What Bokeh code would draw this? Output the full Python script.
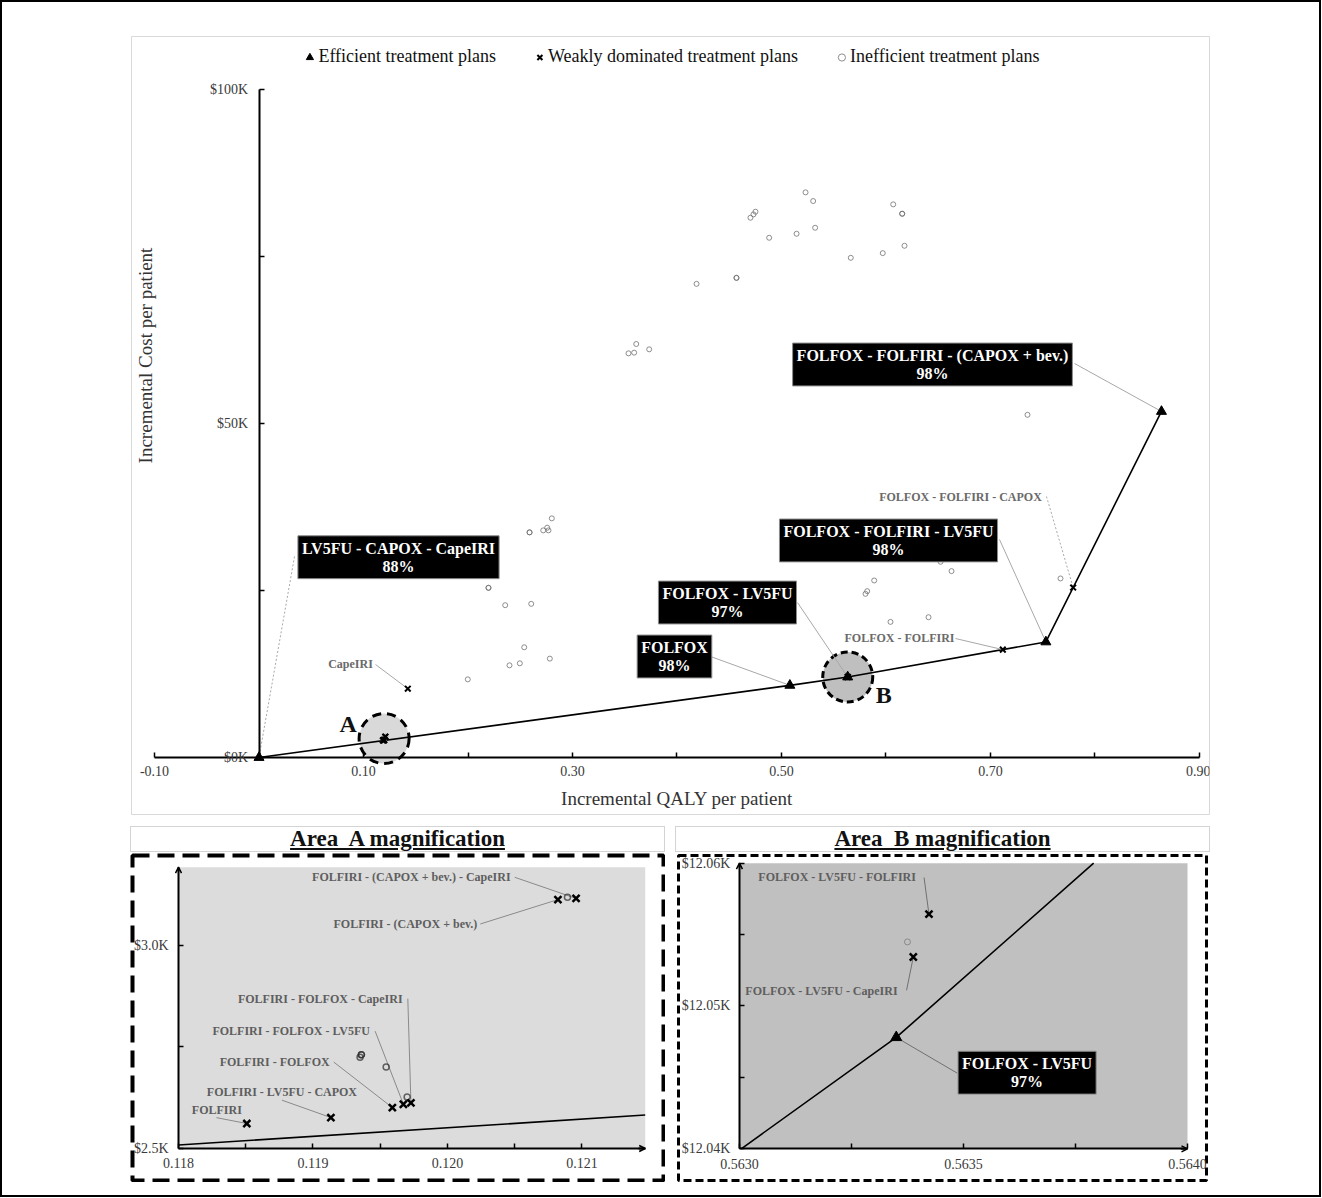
import numpy as np
from bokeh.plotting import figure
from bokeh.models import (Range1d, LinearAxis, FixedTicker, PrintfTickFormatter, Label,
                          Legend, LegendItem, BoxAnnotation, Div, ColumnDataSource,
                          Arrow, OpenHead)
from bokeh.layouts import column, row
from bokeh.embed import file_html
from bokeh.resources import INLINE

SERIF = "Liberation Serif"

# ---------------- data: incremental QALY and incremental cost ($K) per patient ----------------
efficient_plans = ["LV5FU - CAPOX - CapeIRI", "FOLFOX", "FOLFOX - LV5FU",
                   "FOLFOX - FOLFIRI - LV5FU", "FOLFOX - FOLFIRI - (CAPOX + bev.)"]
efficient_qaly = [0.0, 0.508, 0.56335, 0.753, 0.8636]
efficient_cost = [0.0, 10.80, 12.0478, 17.30, 51.80]
efficient_prob = ["88%", "98%", "97%", "98%", "98%"]

weak_plans = ["CapeIRI", "FOLFIRI", "FOLFIRI - LV5FU - CAPOX", "FOLFIRI - FOLFOX",
              "FOLFIRI - FOLFOX - LV5FU", "FOLFIRI - FOLFOX - CapeIRI",
              "FOLFIRI - (CAPOX + bev.)", "FOLFIRI - (CAPOX + bev.) - CapeIRI",
              "FOLFOX - LV5FU - CapeIRI", "FOLFOX - LV5FU - FOLFIRI",
              "FOLFOX - FOLFIRI", "FOLFOX - FOLFIRI - CAPOX"]
weak_qaly = [0.1424, 0.118508, 0.119133, 0.119590, 0.119672, 0.119728,
             0.120821, 0.120956, 0.563388, 0.563423, 0.7118, 0.7791]
weak_cost = [10.30, 2.5615, 2.5762, 2.6008, 2.6090, 2.6123,
             3.1130, 3.1160, 12.05343, 12.05643, 16.15, 25.44]

inefficient_qaly = [0.5230, 0.5303, 0.6069, 0.6155, 0.6155, 0.4732, 0.4703, 0.4751,
                    0.4882, 0.5144, 0.5322, 0.6177, 0.5663, 0.5969, 0.4569, 0.4569,
                    0.4187, 0.3536, 0.3590, 0.3610, 0.3734, 0.7354, 0.2802, 0.2758,
                    0.2770, 0.2720, 0.2589, 0.2589, 0.2196, 0.2196, 0.2356, 0.2605,
                    0.2538, 0.2397, 0.2496, 0.2783, 0.1998, 0.5887, 0.5804, 0.5820,
                    0.6043, 0.6407, 0.6522, 0.6627, 0.7670,
                    0.11970, 0.11936, 0.11935, 0.11936, 0.119544, 0.120892,
                    0.563375]
inefficient_cost = [84.6, 83.3, 82.8, 81.4, 81.4, 81.3, 80.8, 81.7,
                    77.8, 78.4, 79.3, 76.6, 74.8, 75.5, 71.8, 71.8,
                    70.9, 60.5, 60.6, 61.9, 61.1, 51.3, 35.8, 34.4,
                    34.0, 34.0, 33.7, 33.7, 25.4, 25.4, 22.8, 23.0,
                    16.5, 13.8, 14.1, 14.8, 11.7, 26.5, 24.5, 24.9,
                    20.3, 21.0, 29.3, 27.9, 26.8,
                    2.627, 2.731, 2.725, 2.731, 2.7008, 3.119,
                    12.05449]

# magnified windows: (qaly from, qaly to, cost from, cost to)
area_a = (0.118, 0.12147, 2.5, 3.193)
area_b = (0.5630, 0.5640, 12.04, 12.06)

# ---------------- annotation placement ----------------
# (plan, label x, label y, leader start x, leader start y, dotted leader)
main_boxes = [
    ("FOLFOX - FOLFIRI - (CAPOX + bev.)", 0.6445, 58.83, 0.7804, 58.98, False),
    ("FOLFOX - FOLFIRI - LV5FU", 0.6024, 32.49, 0.7086, 32.63, False),
    ("FOLFOX - LV5FU", 0.4483, 23.20, 0.5153, 23.20, False),
    ("FOLFOX", 0.3976, 15.12, 0.4321, 15.12, False),
    ("LV5FU - CAPOX - CapeIRI", 0.1335, 29.98, 0.0340, 30.09, True),
]
main_tags = [
    ("FOLFOX - FOLFIRI - CAPOX", 0.6713, 39.07, 0.7536, 39.07, True),
    ("FOLFOX - FOLFIRI", 0.6129, 17.96, 0.6665, 17.81, False),
    ("CapeIRI", 0.0876, 14.07, 0.1115, 13.92, False),
]
a_tags = [
    ("FOLFIRI - (CAPOX + bev.) - CapeIRI", 0.119731, 3.168, 0.120500, 3.168),
    ("FOLFIRI - (CAPOX + bev.)", 0.119687, 3.053, 0.120244, 3.053),
    ("FOLFIRI - FOLFOX - CapeIRI", 0.119054, 2.869, 0.119705, 2.869),
    ("FOLFIRI - FOLFOX - LV5FU", 0.118838, 2.789, 0.119462, 2.789),
    ("FOLFIRI - FOLFOX", 0.118715, 2.713, 0.119154, 2.713),
    ("FOLFIRI - LV5FU - CAPOX", 0.118769, 2.638, 0.118769, 2.619),
    ("FOLFIRI", 0.118285, 2.594, 0.118282, 2.576),
]
b_tags = [
    ("FOLFOX - LV5FU - FOLFIRI", 0.563218, 12.05904, 0.563412, 12.05900),
    ("FOLFOX - LV5FU - CapeIRI", 0.563183, 12.05103, 0.563373, 12.05110),
]
b_box = ("FOLFOX - LV5FU", 0.563642, 12.04533, 0.563486, 12.04530)


def locate(plan):
    if plan in efficient_plans:
        i = efficient_plans.index(plan)
        return efficient_qaly[i], efficient_cost[i]
    i = weak_plans.index(plan)
    return weak_qaly[i], weak_cost[i]


def prob_of(plan):
    return efficient_prob[efficient_plans.index(plan)]


def frontier_in_window(x0, x1, y0, y1):
    """Part of the (monotone) efficiency frontier that lies inside a window."""
    qx = np.array(efficient_qaly)
    qy = np.array(efficient_cost)
    lo = max(x0, float(np.interp(y0, qy, qx)))
    hi = min(x1, float(np.interp(y1, qy, qx)))
    xs = [lo] + [x for x in qx if lo < x < hi] + [hi]
    return xs, list(np.interp(xs, qx, qy))


def make_fig(w, h, xr, yr, border):
    f = figure(width=w, height=h, x_range=Range1d(*xr), y_range=Range1d(*yr),
               x_axis_type=None, y_axis_type=None, output_backend="svg",
               toolbar_location=None, min_border=border)
    f.background_fill_color = "white"
    f.border_fill_color = "white"
    return f


def add_axis(f, side, loc, bounds, ticks, minor, fmt, label=None, label_standoff=8,
             standoff=7):
    ax = LinearAxis(fixed_location=loc, bounds=bounds,
                    ticker=FixedTicker(ticks=ticks, minor_ticks=minor),
                    formatter=PrintfTickFormatter(format=fmt))
    ax.axis_line_color = "black"
    ax.axis_line_width = 2
    ax.major_tick_in = 5
    ax.major_tick_out = 0
    ax.minor_tick_in = 5
    ax.minor_tick_out = 0
    ax.major_tick_line_width = 1.5
    ax.minor_tick_line_width = 1.5
    ax.major_label_text_font = SERIF
    ax.major_label_text_font_size = "14px"
    ax.major_label_text_color = "#3a3a3a"
    ax.major_label_standoff = standoff
    if label:
        ax.axis_label = label
        ax.axis_label_text_font = SERIF
        ax.axis_label_text_font_style = "normal"
        ax.axis_label_text_font_size = "19px"
        ax.axis_label_text_color = "#333333"
        ax.axis_label_standoff = label_standoff
    f.add_layout(ax, side)
    return ax


def axis_arrows(f, area, dx, dy):
    x0, x1, y0, y1 = area
    head = dict(size=6, line_width=1.5, line_color="black")
    f.add_layout(Arrow(end=OpenHead(**head), x_start=x0, y_start=y1 - dy, x_end=x0, y_end=y1,
                       line_width=2, line_color="black"))
    f.add_layout(Arrow(end=OpenHead(**head), x_start=x1 - dx, y_start=y0, x_end=x1, y_end=y0,
                       line_width=2, line_color="black"))


def box_label(f, text, x, y):
    f.add_layout(Label(x=x, y=y, text=text, text_align="center", text_baseline="middle",
                       text_font=SERIF, text_font_style="bold", text_font_size="16px",
                       text_color="white", text_line_height=1.05,
                       background_fill_color="black", border_line_color="#8c8c8c",
                       border_line_width=1, padding=4))


def tag_label(f, text, x, y, color="#6a6a6a"):
    f.add_layout(Label(x=x, y=y, text=text, text_align="center", text_baseline="middle",
                       text_font=SERIF, text_font_style="bold", text_font_size="12px",
                       text_color=color))


def leaders(f, rows, dotted=False, color="#a8a8a8"):
    if not rows:
        return
    src = ColumnDataSource(dict(x0=[r[0] for r in rows], y0=[r[1] for r in rows],
                                x1=[r[2] for r in rows], y1=[r[3] for r in rows]))
    f.segment("x0", "y0", "x1", "y1", source=src, line_color=color, line_width=1,
              line_dash="2 2" if dotted else "solid")


# ======================= main cost-effectiveness plane =======================
main = make_fig(1080, 780, (-0.12201, 0.90957), (-8.533, 107.93), 1)
main.outline_line_color = "#d9d9d9"
main.outline_line_width = 1

add_axis(main, "below", 0, (-0.10, 0.90), [-0.10, 0.10, 0.30, 0.50, 0.70, 0.90],
         [0.0, 0.20, 0.40, 0.60, 0.80], "%.2f", "Incremental QALY per patient", 8, standoff=9)
add_axis(main, "left", 0, (0, 100), [0, 50, 100], [25, 75], "$%dK", standoff=11)
# cost-axis title, placed beside the upper part of the plane
main.add_layout(Label(x=14, y=459, x_units="screen", y_units="screen", angle=np.pi / 2,
                      text="Incremental Cost per patient", text_font=SERIF,
                      text_font_size="19px", text_color="#333333", text_align="center",
                      text_baseline="middle"))

# highlighted areas that are magnified below
for (x0, x1, y0, y1), fill, dash, name, off in ((area_a, "#d9d9d9", "9 6", "A", (-36, 15)),
                                                (area_b, "#bfbfbf", "7 4", "B", (36, -18))):
    inside = [(q, c) for q, c in zip(weak_qaly + efficient_qaly, weak_cost + efficient_cost)
              if x0 <= q <= x1 and y0 <= c <= y1]
    qs = [q for q, _ in inside]
    cs = [c for _, c in inside]
    cx, cy = (min(qs) + max(qs)) / 2, (min(cs) + max(cs)) / 2
    main.scatter([cx], [cy], marker="circle", size=50, fill_color=fill,
                 line_color="black", line_width=3, line_dash=dash)
    main.add_layout(Label(x=cx, y=cy, x_offset=off[0], y_offset=off[1], text=name,
                          text_font=SERIF, text_font_style="bold", text_font_size="24px",
                          text_color="#111111", text_align="center", text_baseline="middle"))

main.line(efficient_qaly, efficient_cost, line_color="black", line_width=1.6)

# leader lines
solid, dotted = [], []
for plan, lx, ly, sx, sy, dot in main_boxes + main_tags:
    px, py = locate(plan)
    (dotted if dot else solid).append((sx, sy, px, py))
leaders(main, solid)
leaders(main, dotted, dotted=True)

r_ineff = main.scatter(inefficient_qaly, inefficient_cost, marker="circle", size=5,
                       fill_color=None, line_color="#6a6a6a", line_alpha=0.75, line_width=1)
r_weak = main.scatter(weak_qaly, weak_cost, marker="x", size=8, line_color="black",
                      line_width=2)
r_eff = main.scatter(efficient_qaly, efficient_cost, marker="triangle", size=10,
                     color="black")

for plan, lx, ly, sx, sy, dot in main_boxes:
    box_label(main, plan + "\n" + prob_of(plan), lx, ly)
for plan, lx, ly, sx, sy, dot in main_tags:
    tag_label(main, plan, lx, ly)

legend = Legend(items=[LegendItem(label="Efficient treatment plans", renderers=[r_eff]),
                       LegendItem(label="Weakly dominated treatment plans", renderers=[r_weak]),
                       LegendItem(label="Inefficient treatment plans", renderers=[r_ineff])],
                orientation="horizontal", location="top_center")
legend.label_text_font = SERIF
legend.label_text_font_size = "18px"
legend.label_text_color = "#111111"
legend.glyph_width = 18
legend.glyph_height = 18
legend.label_standoff = 0
legend.spacing = 34
legend.margin = 8
legend.padding = 2
legend.background_fill_alpha = 0
legend.border_line_alpha = 0
main.add_layout(legend)
main.margin = (33, 0, 0, 128)

# ======================= magnification of area A =======================
fa = make_fig(535, 329, (0.117658, 0.121606), (2.42118, 3.22167), 2)
fa.outline_line_color = "black"
fa.outline_line_width = 4
fa.outline_line_dash = "17 8"
fa.add_layout(BoxAnnotation(left=area_a[0], right=area_a[1], bottom=area_a[2], top=area_a[3],
                            fill_color="#dcdcdc", fill_alpha=1, line_color=None,
                            level="underlay"))
add_axis(fa, "below", area_a[2], (area_a[0], area_a[1]), [0.118, 0.119, 0.120, 0.121],
         [0.1185, 0.1195, 0.1205], "%.3f", standoff=10)
add_axis(fa, "left", area_a[0], (area_a[2], area_a[3]), [2.5, 3.0], [2.75], "$%.1fK",
         standoff=10)
axis_arrows(fa, area_a, 0.00005, 0.01)
xs, ys = frontier_in_window(*area_a)
fa.line(xs, ys, line_color="black", line_width=1.6)
leaders(fa, [(sx, sy) + locate(p) for p, lx, ly, sx, sy in a_tags], color="#8a8a8a")
fa.scatter(inefficient_qaly, inefficient_cost, marker="circle", size=6, fill_color=None,
           line_color="#2a2a2a", line_alpha=0.7, line_width=1.5)
fa.scatter(weak_qaly, weak_cost, marker="x", size=10, line_color="black", line_width=2.5)
fa.scatter(efficient_qaly, efficient_cost, marker="triangle", size=11, color="black")
for p, lx, ly, sx, sy in a_tags:
    tag_label(fa, p, lx, ly, "#5e5e5e")
fa.margin = (1, 0, 0, 0)

# ======================= magnification of area B =======================
fb = make_fig(532, 329, (0.562864, 0.5640424), (12.03778, 12.060539), 2)
fb.outline_line_color = "black"
fb.outline_line_width = 3
fb.outline_line_dash = "8 4"
fb.add_layout(BoxAnnotation(left=area_b[0], right=area_b[1], bottom=area_b[2], top=area_b[3],
                            fill_color="#c0c0c0", fill_alpha=1, line_color=None,
                            level="underlay"))
add_axis(fb, "below", area_b[2], (area_b[0], area_b[1]), [0.5630, 0.5635, 0.5640],
         [0.56325, 0.56375], "%.4f", standoff=10)
add_axis(fb, "left", area_b[0], (area_b[2], area_b[3]), [12.04, 12.05, 12.06],
         [12.045, 12.055], "$%.2fK", standoff=9)
axis_arrows(fb, area_b, 0.000015, 0.0003)
xs, ys = frontier_in_window(*area_b)
fb.line(xs, ys, line_color="black", line_width=1.6)
b_lead = [(sx, sy) + locate(p) for p, lx, ly, sx, sy in b_tags]
b_lead.append((b_box[3], b_box[4]) + locate(b_box[0]))
leaders(fb, b_lead, color="#707070")
fb.scatter(inefficient_qaly, inefficient_cost, marker="circle", size=6, fill_color=None,
           line_color="#8a8a8a", line_width=1)
fb.scatter(weak_qaly, weak_cost, marker="x", size=10, line_color="black", line_width=2.5)
fb.scatter(efficient_qaly, efficient_cost, marker="triangle", size=11, color="black")
for p, lx, ly, sx, sy in b_tags:
    tag_label(fb, p, lx, ly, "#5e5e5e")
box_label(fb, b_box[0] + "\n" + prob_of(b_box[0]), b_box[1], b_box[2])
fb.margin = (1, 0, 0, 1)

# ======================= page layout =======================
title_css = {"border": "1px solid #d4d4d4", "box-sizing": "border-box",
             "font-family": SERIF, "font-weight": "bold", "font-size": "23px",
             "text-align": "center", "line-height": "24px", "color": "#111111",
             "background-color": "white"}
title_a = Div(text="<u>Area&nbsp; A magnification</u>", width=535, height=26,
              styles=title_css, margin=0)
title_b = Div(text="<u>Area&nbsp; B magnification</u>", width=535, height=26,
              styles=title_css, margin=0)

col_a = column(title_a, fa)
col_b = column(title_b, fb)
col_b.margin = (0, 0, 0, 10)
bottom = row(col_a, col_b)
bottom.margin = (11, 0, 0, 128)

page = column(main, bottom, width=1321, height=1197,
              styles={"border": "2px solid black", "background-color": "white"})

with open("out.html", "w") as fh:
    fh.write(file_html(page, INLINE))
